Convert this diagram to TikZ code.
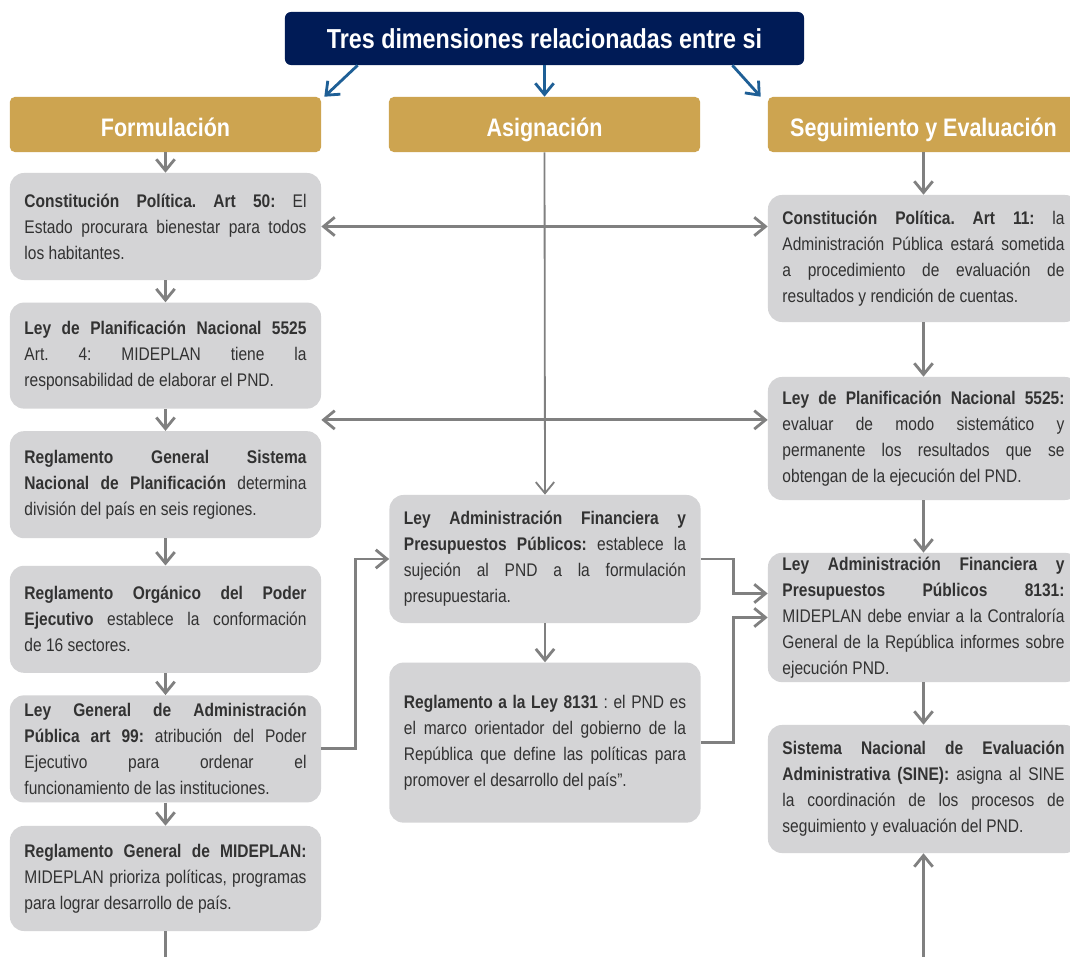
\documentclass[tikz,border=0pt]{standalone}
\usepackage{fontspec}
\setmainfont{Liberation Sans}[FakeStretch=0.85]
\usetikzlibrary{arrows.meta, calc, positioning}
\definecolor{navy}{RGB}{0,27,86}
\definecolor{gold}{RGB}{205,164,80}
\definecolor{boxgray}{RGB}{212,212,214}
\definecolor{textgray}{RGB}{50,50,50}
\definecolor{linegray}{RGB}{128,128,128}
\definecolor{arrowblue}{RGB}{30,95,150}
\frenchspacing

\begin{document}
\begin{tikzpicture}[x=0.025cm, y=-0.025cm]

% TikZ styles
\tikzset{
  title/.style={rectangle, rounded corners=0.15cm, fill=navy, text=white, minimum width=12.975cm, minimum height=1.325cm, font=\fontsize{19.5}{22}\selectfont\bfseries},
  header/.style={rectangle, rounded corners=0.12cm, fill=gold, text=white, minimum width=7.775cm, minimum height=1.375cm, text height=17pt, text depth=0pt, font=\fontsize{18}{21}\selectfont\bfseries},
  lawbox/.style={rectangle, rounded corners=0.35cm, fill=boxgray, text=textgray, text width=7.05cm, inner xsep=0.3625cm, inner ysep=0.1cm, align=justify, font=\fontsize{13}{18.5}\selectfont},
  arrow/.style={-{Straight Barb[length=2.8mm, width=4.6mm]}, draw=linegray, line width=2pt},
  arrowboth/.style={{Straight Barb[length=2.8mm, width=4.6mm]}-{Straight Barb[length=2.8mm, width=4.6mm]}, draw=linegray, line width=2pt},
  plainline/.style={draw=linegray, line width=2pt},
  bluearrow/.style={-{Straight Barb[length=2.8mm, width=4.6mm]}, draw=arrowblue, line width=2pt}
}

\path[use as bounding box, fill=white] (0,0) rectangle (1070,957);
\clip (0,0) rectangle (1070,957);

% --- Kopf und Dimensionen ---
\node[title] (dims) at (544.5,38.5) {Tres dimensiones relacionadas entre si};
\node[header] (formu) at (165.5,124.5) {Formulación};
\node[header] (asig)  at (544.5,124.5) {Asignación};
\node[header] (segui) at (923.5,124.5) {Seguimiento y Evaluación};

% --- Formulacion ---
\node[lawbox, minimum height=2.675cm] (cp50) at (165.5,226.5) {\textbf{Constitución Política. Art 50:} El\linebreak Estado procurara bienestar para todos\linebreak los habitantes.};
\node[lawbox, minimum height=2.65cm, below=0.55cm of cp50] (lpn) {\textbf{Ley de Planificación Nacional 5525}\linebreak Art. 4: MIDEPLAN tiene la\linebreak responsabilidad de elaborar el PND.};
\node[lawbox, minimum height=2.675cm, below=0.55cm of lpn] (rgsnp) {\textbf{Reglamento General Sistema\linebreak Nacional de Planificación} determina\linebreak división del país en seis regiones.};
\node[lawbox, minimum height=2.675cm, below=0.675cm of rgsnp] (ropej) {\textbf{Reglamento Orgánico del Poder\linebreak Ejecutivo} establece la conformación\linebreak de 16 sectores.};
\node[lawbox, minimum height=2.675cm, below=0.55cm of ropej] (lgap) {\textbf{Ley General de Administración\linebreak Pública art 99:} atribución del Poder\linebreak Ejecutivo para ordenar el\linebreak funcionamiento de las instituciones.};
\node[lawbox, minimum height=2.625cm, below=0.575cm of lgap] (rgmid) {\textbf{Reglamento General de MIDEPLAN:}\linebreak MIDEPLAN prioriza políticas, programas\linebreak para lograr desarrollo de país.};

% --- Asignacion ---
\node[lawbox, minimum height=3.2cm] (lafpp) at (545,559) {\textbf{Ley Administración Financiera y\linebreak Presupuestos Públicos:} establece la\linebreak sujeción al PND a la formulación\linebreak presupuestaria.};
\node[lawbox, minimum height=4cm, below=0.975cm of lafpp] (regl) {\textbf{Reglamento a la Ley 8131} : el PND es\linebreak el marco orientador del gobierno de la\linebreak República que define las políticas para\linebreak promover el desarrollo del país".};

% --- Seguimiento y Evaluacion ---
\node[lawbox, minimum height=3.175cm] (cp11) at (923.5,258.5) {\textbf{Constitución Política. Art 11:} la\linebreak Administración Pública estará sometida\linebreak a procedimiento de evaluación de\linebreak resultados y rendición de cuentas.};
\node[lawbox, minimum height=3.075cm] (lpnev) at (923.5,438.5) {\textbf{Ley de Planificación Nacional 5525:}\linebreak evaluar de modo sistemático y\linebreak permanente los resultados que se\linebreak obtengan de la ejecución del PND.};
\node[lawbox, minimum height=3.225cm] (lafpp8131) at (923.5,617.5) {\textbf{Ley Administración Financiera y\linebreak Presupuestos Públicos 8131:}\linebreak MIDEPLAN debe enviar a la Contraloría\linebreak General de la República informes sobre\linebreak ejecución PND.};
\node[lawbox, minimum height=3.2cm] (sine) at (923.5,789) {\textbf{Sistema Nacional de Evaluación\linebreak Administrativa (SINE):} asigna al SINE\linebreak la coordinación de los procesos de\linebreak seguimiento y evaluación del PND.};

\coordinate (leftend) at (165.5,960);
\coordinate (sinebottom) at (923.5,960);
\coordinate (lpngap) at ($(lpn.south east)!0.5!(rgsnp.north east)$);

% --- Pfeile ---
\draw[bluearrow] ($(dims.south west)+(73,0)$) -- ($(formu.north east)+(3,0)$);
\draw[bluearrow] (dims.south) -- (asig.north);
\draw[bluearrow] ($(dims.south east)+(-72,0)$) -- ($(segui.north west)+(-7,0)$);

\draw[arrow] (formu.south) -- (cp50.north);
\draw[arrow] (cp50.south) -- (lpn.north);
\draw[arrow] (lpn.south) -- (rgsnp.north);
\draw[arrow] (rgsnp.south) -- (ropej.north);
\draw[arrow] (ropej.south) -- (lgap.north);
\draw[arrow] (lgap.south) -- (rgmid.north);
\draw[plainline] (rgmid.south) -- (leftend);

\draw[arrow, line width=1.3pt] (asig.south) -- (lafpp.north);
\draw[arrow] (lafpp.south) -- (regl.north);

\draw[arrow] (segui.south) -- (cp11.north);
\draw[arrow] (cp11.south) -- (lpnev.north);
\draw[arrow] (lpnev.south) -- (lafpp8131.north);
\draw[arrow] (lafpp8131.south) -- (sine.north);
\draw[arrow] (sinebottom) -- (sine.south);

% Querverbindungen
\draw[arrowboth] (cp50.east) -- (cp50.east -| cp11.west);
\draw[arrowboth] (lpngap) -- (lpngap -| lpnev.west);
\draw[arrow] (lgap.east) -- ++(34,0) |- (lafpp.west);
\draw[arrow] (lafpp.east) -- ++(33,0) |- ($(lafpp8131.west)+(0,-24)$);
\draw[arrow] (regl.east) -- ++(33,0) |- (lafpp8131.west);
\end{tikzpicture}
\end{document}
